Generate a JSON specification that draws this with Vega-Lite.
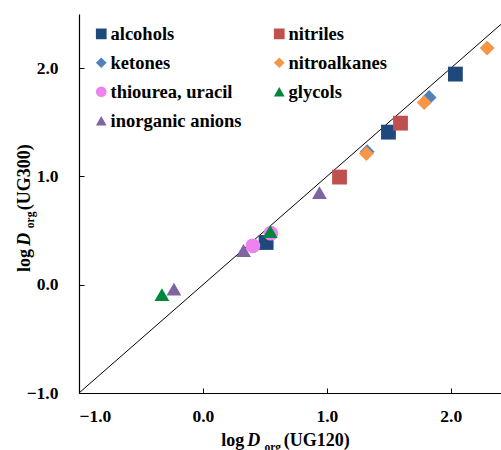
{
  "$schema": "https://vega.github.io/schema/vega-lite/v6.json",
  "width": 422,
  "height": 379,
  "autosize": {"type": "none"},
  "padding": {"left": 79, "top": 14, "right": 0, "bottom": 57},
  "config": {
    "font": "Liberation Serif",
    "view": {"stroke": null},
    "axis": {
      "grid": false,
      "labelFont": "Liberation Serif",
      "titleFont": "Liberation Serif",
      "labelColor": "black",
      "titleColor": "black",
      "labelFontWeight": "bold",
      "titleFontWeight": "bold",
      "labelFontSize": 17.5,
      "titleFontSize": 18,
      "titleAlign": "left",
      "titleBaseline": "alphabetic"
    }
  },
  "layer": [
    {
      "data": {"values": [{"x": -1, "y": -1}, {"x": 2.5, "y": 2.5}]},
      "mark": {"type": "line", "color": "black", "strokeWidth": 1, "clip": true},
      "encoding": {
        "x": {
          "field": "x", "type": "quantitative",
          "scale": {"domain": [-1, 2.405], "nice": false, "zero": false},
          "axis": {"orient": "bottom", "values": [-1, 0, 1, 2], "format": ".1f", "tickSize": -5, "labelPadding": 19,
                   "labelFont": "Liberation Serif",
                   "domainColor": "black", "tickColor": "black", "domainWidth": 1.2, "tickWidth": 1,
                   "title": "log", "titleX": 141.7, "titleY": 52.7}
        },
        "y": {
          "field": "y", "type": "quantitative",
          "scale": {"domain": [-1, 2.5], "nice": false, "zero": false},
          "axis": {"orient": "left", "values": [-1, 0, 1, 2], "format": ".1f", "tickSize": -5, "labelPadding": 26,
                   "labelFont": "Liberation Serif",
                   "domainColor": "black", "tickColor": "black", "domainWidth": 1.2, "tickWidth": 1,
                   "title": "log", "titleAngle": 270, "titleX": -50, "titleY": 257.4}
        }
      }
    },
    {
      "mark": {"type": "rule", "color": "black", "strokeWidth": 1.2},
      "encoding": {
        "x": {"datum": -1, "type": "quantitative",
              "scale": {"domain": [-1, 2.405], "nice": false, "zero": false},
              "axis": {"orient": "bottom", "labels": false, "ticks": false, "domain": false, "title": "D", "titleFontStyle": "italic", "titleX": 167.7, "titleY": 52.7}},
        "x2": {"datum": 2.405},
        "y": {"datum": 2.5, "type": "quantitative",
              "scale": {"domain": [-1, 2.5], "nice": false, "zero": false},
              "axis": {"orient": "left", "labels": false, "ticks": false, "domain": false, "title": "D", "titleFontStyle": "italic", "titleAngle": 270, "titleX": -50, "titleY": 231.2}}
      }
    },
    {
      "mark": {"type": "rule", "color": "black", "strokeWidth": 1.2},
      "encoding": {
        "x": {"datum": -1, "type": "quantitative",
              "scale": {"domain": [-1, 2.405], "nice": false, "zero": false},
              "axis": {"orient": "bottom", "labels": false, "ticks": false, "domain": false, "title": "org", "titleFontSize": 11.5, "titleX": 185, "titleY": 57}},
        "y": {"datum": -1, "type": "quantitative",
              "scale": {"domain": [-1, 2.5], "nice": false, "zero": false},
              "axis": {"orient": "left", "labels": false, "ticks": false, "domain": false, "title": "org", "titleFontSize": 11.5, "titleAngle": 270, "titleX": -45.5, "titleY": 213.7}},
        "y2": {"datum": 2.5}
      }
    },
    {
      "data": {"values": [
        {"group": "ketones", "x": 1.825, "y": 1.729},
        {"group": "ketones", "x": 1.325, "y": 1.228},
        {"group": "nitroalkanes", "x": 2.293, "y": 2.185},
        {"group": "nitroalkanes", "x": 1.785, "y": 1.682},
        {"group": "nitroalkanes", "x": 1.319, "y": 1.211},
        {"group": "alcohols", "x": 2.037, "y": 1.945},
        {"group": "alcohols", "x": 1.497, "y": 1.409},
        {"group": "alcohols", "x": 0.51, "y": 0.39},
        {"group": "nitriles", "x": 1.594, "y": 1.492},
        {"group": "nitriles", "x": 1.102, "y": 0.994},
        {"group": "inorganic anions", "x": 0.94, "y": 0.851},
        {"group": "inorganic anions", "x": 0.327, "y": 0.316},
        {"group": "inorganic anions", "x": -0.234, "y": -0.041},
        {"group": "thiourea, uracil", "x": 0.403, "y": 0.359},
        {"group": "thiourea, uracil", "x": 0.548, "y": 0.476},
        {"group": "glycols", "x": 0.543, "y": 0.491},
        {"group": "glycols", "x": -0.331, "y": -0.091}
      ]},
      "mark": {"type": "point", "filled": true, "opacity": 1, "size": 220, "strokeWidth": 0},
      "encoding": {
        "x": {"field": "x", "type": "quantitative",
              "scale": {"domain": [-1, 2.405], "nice": false, "zero": false},
              "axis": {"orient": "bottom", "labels": false, "ticks": false, "domain": false, "title": "(UG120)", "titleX": 204.3, "titleY": 52.7}},
        "y": {"field": "y", "type": "quantitative",
              "scale": {"domain": [-1, 2.5], "nice": false, "zero": false},
              "axis": {"orient": "left", "labels": false, "ticks": false, "domain": false, "title": "(UG300)", "titleAngle": 270, "titleX": -50, "titleY": 195.7}},
        "color": {
          "field": "group", "type": "nominal",
          "scale": {
            "domain": ["alcohols", "nitriles", "ketones", "nitroalkanes", "thiourea, uracil", "glycols", "inorganic anions"],
            "range": ["#1F497D", "#C0504D", "#4F81BD", "#F79646", "#EE82EE", "#00873C", "#8064A2"]
          },
          "legend": {"orient": "none", "direction": "horizontal", "legendX": 13, "legendY": 10.5, "columns": 2, "title": null, "padding": 0,
                     "symbolSize": 115, "symbolStrokeWidth": 0, "symbolOpacity": 1,
                     "labelFont": "Liberation Serif", "labelFontWeight": "bold", "labelFontSize": 18.5, "labelColor": "black",
                     "labelOffset": 0, "rowPadding": 10, "columnPadding": 28, "labelLimit": 300}
        },
        "shape": {
          "field": "group", "type": "nominal",
          "scale": {
            "domain": ["alcohols", "nitriles", "ketones", "nitroalkanes", "thiourea, uracil", "glycols", "inorganic anions"],
            "range": ["square", "square", "diamond", "diamond", "circle", "triangle-up", "triangle-up"]
          },
          "legend": {"orient": "none", "direction": "horizontal", "legendX": 13, "legendY": 10.5, "columns": 2, "title": null, "padding": 0,
                     "symbolSize": 115, "symbolStrokeWidth": 0, "symbolOpacity": 1,
                     "labelFont": "Liberation Serif", "labelFontWeight": "bold", "labelFontSize": 18.5, "labelColor": "black",
                     "labelOffset": 0, "rowPadding": 10, "columnPadding": 28, "labelLimit": 300}
        }
      }
    }
  ],
  "resolve": {"axis": {"x": "independent", "y": "independent"}}
}
